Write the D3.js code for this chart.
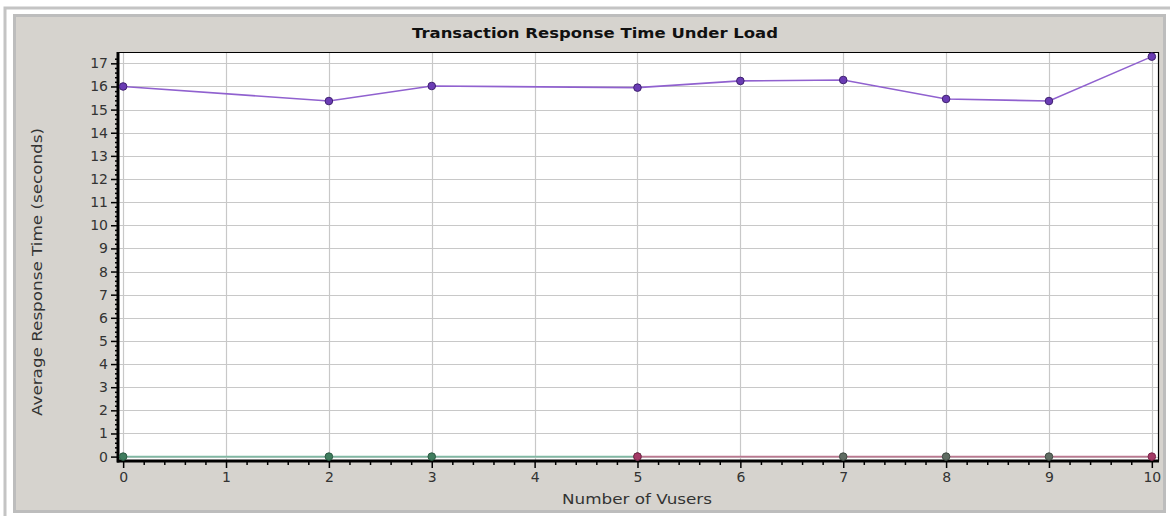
<!DOCTYPE html>
<html><head><meta charset="utf-8">
<script src="https://cdn.jsdelivr.net/npm/d3@7"></script>
<style>body{margin:0;background:#fff}svg{display:block}</style>
</head><body>
<svg id="c" width="1170" height="516"></svg>
<script>
// ---- data ----
const title = "Transaction Response Time Under Load";
const xLabel = "Number of Vusers";
const yLabel = "Average Response Time (seconds)";
const xTicks = [0,1,2,3,4,5,6,7,8,9,10];
const yTicks = [0,1,2,3,4,5,6,7,8,9,10,11,12,13,14,15,16,17];
const respX = [0,2,3,5,6,7,8,9,10];
const respY = [16.0,15.37,16.02,15.95,16.24,16.28,15.46,15.37,17.29];
const greenX = [0,2,3,5];
const greenY = [0,0,0,0];
const maroonX = [5,10];
const maroonY = [0,0];
const grayX = [7,8,9];
const grayY = [0,0,0];

const svg = d3.select("#c");
// frames
svg.append("rect").attr("x",5).attr("y",8).attr("width",1170).attr("height",520)
  .attr("fill","#fff").attr("stroke","#c4c4c4").attr("stroke-width",3);
svg.append("rect").attr("x",14.5).attr("y",15.5).attr("width",1150).attr("height",496)
  .attr("fill","#d6d3ce").attr("stroke","#bdbdbd").attr("stroke-width",3);

const L=118, R=1158, T=52, B=461;
const x = d3.scaleLinear().domain([-0.05,10.06]).range([L,R]);
const y = d3.scaleLinear().domain([-0.19,17.49]).range([B,T]);

svg.append("rect").attr("x",L).attr("y",T).attr("width",R-L).attr("height",B-T).attr("fill","#fff");

// grid
const g = svg.append("g");
g.selectAll(".gx").data(xTicks).join("line")
  .attr("x1",d=>Math.round(x(d))+0.5).attr("x2",d=>Math.round(x(d))+0.5)
  .attr("y1",T).attr("y2",B).attr("stroke","#c8c8c8").attr("stroke-width",1.2);
g.selectAll(".gy").data(yTicks).join("line")
  .attr("y1",d=>Math.round(y(d))+0.5).attr("y2",d=>Math.round(y(d))+0.5)
  .attr("x1",L).attr("x2",R).attr("stroke","#c8c8c8").attr("stroke-width",1.2);

// plot border top/right
svg.append("path").attr("d",`M${L},${T+0.5}H${R+0.5}V${B}`).attr("fill","none").attr("stroke","#000").attr("stroke-width",1.2);

// axes
const xMinor = d3.range(0,50.5).map(i=>i*0.2).filter(v=>v<=10.001 && Math.abs(v-Math.round(v))>0.01);
const yMinor = d3.range(0,87).map(i=>i*0.2).filter(v=>v<=17.45 && Math.abs(v-Math.round(v))>0.01);

const xAxis = svg.append("g").attr("transform",`translate(0,${B})`)
  .call(d3.axisBottom(x).tickValues(xTicks).tickFormat(d3.format("d")).tickSize(7).tickPadding(4));
const yAxis = svg.append("g").attr("transform",`translate(${L},0)`)
  .call(d3.axisLeft(y).tickValues(yTicks).tickFormat(d3.format("d")).tickSize(7).tickPadding(3));
svg.append("g").attr("transform",`translate(0,${B})`)
  .call(d3.axisBottom(x).tickValues(xMinor).tickFormat("").tickSize(4))
  .call(a=>a.select(".domain").remove());
svg.append("g").attr("transform",`translate(${L},0)`)
  .call(d3.axisLeft(y).tickValues(yMinor).tickFormat("").tickSize(3))
  .call(a=>a.select(".domain").remove());
svg.selectAll(".tick line").attr("stroke","#000").attr("stroke-width",1.5);
[xAxis,yAxis].forEach(a=>{
  a.select(".domain").remove();
  a.selectAll("text").attr("font-family","DejaVu Sans").attr("font-size",14).attr("fill","#333");
});
svg.append("line").attr("x1",L-1).attr("x2",R+1).attr("y1",B).attr("y2",B).attr("stroke","#000").attr("stroke-width",3);
svg.append("line").attr("x1",L).attr("x2",L).attr("y1",T).attr("y2",B+1.5).attr("stroke","#000").attr("stroke-width",3);

// series
const line = d3.line().x(d=>x(d[0])).y(d=>y(d[1]));
function series(xs, ys, lineColor, markColor, markStroke, drawLine){
  const pts = xs.map((v,i)=>[v,ys[i]]);
  if(drawLine) svg.append("path").datum(pts).attr("d",line).attr("fill","none")
    .attr("stroke",lineColor).attr("stroke-width",1.6);
  svg.append("g").selectAll("circle").data(pts).join("circle")
    .attr("cx",d=>x(d[0])).attr("cy",d=>y(d[1])).attr("r",3.8)
    .attr("fill",markColor).attr("stroke",markStroke).attr("stroke-width",1);
}
series(greenX, greenY, "#7fb9a3", "#3f7d5e", "#2d5a44", true);
series(maroonX, maroonY, "#bb7890", "#a33a66", "#7a2449", true);
series(grayX, grayY, "#888", "#5f6c62", "#3f4a42", false);
series(respX, respY, "#9061cf", "#6a3cb4", "#3f2170", true);

// titles
svg.append("text").attr("x",595).attr("y",38).attr("text-anchor","middle")
  .attr("font-family","DejaVu Sans").attr("font-weight","bold").attr("font-size",14)
  .attr("textLength",366).attr("lengthAdjust","spacingAndGlyphs").attr("fill","#111").text(title);
svg.append("text").attr("x",637).attr("y",504).attr("text-anchor","middle")
  .attr("font-family","DejaVu Sans").attr("font-size",14.5).attr("fill","#333")
  .attr("textLength",150).attr("lengthAdjust","spacingAndGlyphs").text(xLabel);
svg.append("text").attr("transform","translate(42,272) rotate(-90)").attr("text-anchor","middle")
  .attr("font-family","DejaVu Sans").attr("font-size",14.5).attr("fill","#333")
  .attr("textLength",288).attr("lengthAdjust","spacingAndGlyphs").text(yLabel);
</script>
</body></html>
